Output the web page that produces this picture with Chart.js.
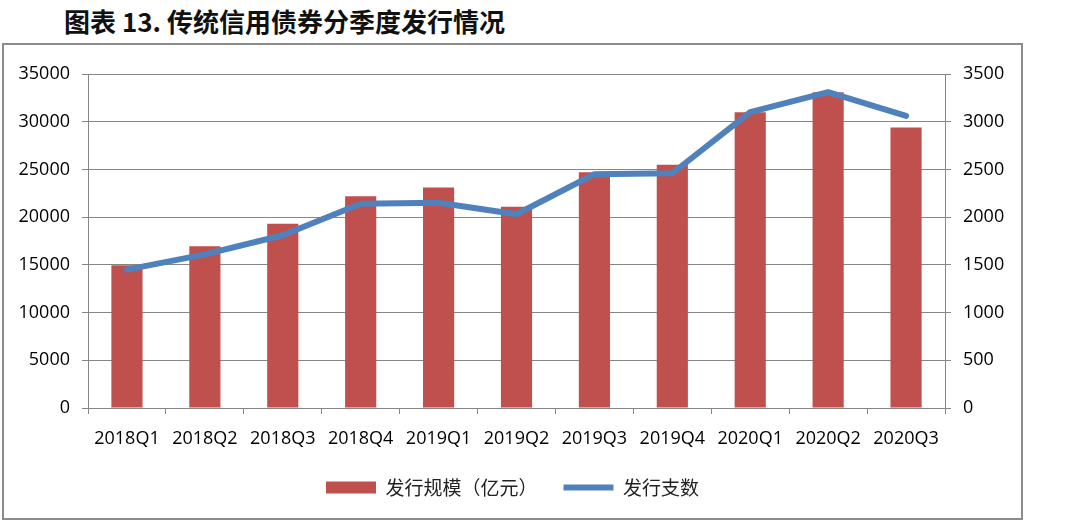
<!DOCTYPE html>
<html>
<head>
<meta charset="utf-8">
<script src="https://cdn.jsdelivr.net/npm/chart.js@4.4.1/dist/chart.umd.min.js"></script>
<style>
  html, body { margin: 0; padding: 0; background: #fff; }
  body { width: 1080px; height: 529px; position: relative; overflow: hidden; }
  #title {
    position: absolute; left: 64px; top: 2px;
    font: bold 26px "Noto Sans CJK SC", sans-serif; color: #111;
    white-space: nowrap;
  }
  #box {
    position: absolute; left: 2px; top: 43px; width: 1017px; height: 473px;
    border: 2px solid #8c8c8c;
  }
  canvas { display: block; }
</style>
</head>
<body>
<div id="title">图表 13. 传统信用债券分季度发行情况</div>
<div id="box"><canvas id="c" width="1017" height="473"></canvas></div>
<script>
// quarterly issuance of traditional credit bonds
const quarters = ["2018Q1", "2018Q2", "2018Q3", "2018Q4", "2019Q1", "2019Q2",
  "2019Q3", "2019Q4", "2020Q1", "2020Q2", "2020Q3"];
const issueAmount = [14950, 16950, 19300, 22200, 23100, 21100, 24700, 25500, 31000, 33100, 29400];
const issueCount = [1450, 1610, 1810, 2140, 2150, 2030, 2450, 2460, 3100, 3310, 3060];

const gridGray = "#868686";
const tickFont = { family: "'Open Sans', sans-serif", size: 18 };

new Chart(document.getElementById("c"), {
  type: "bar",
  data: {
    labels: quarters,
    datasets: [
      {
        label: "发行规模（亿元）",
        data: issueAmount,
        backgroundColor: "#C0504D",
        borderWidth: 0,
        barPercentage: 0.4,
        categoryPercentage: 1,
        yAxisID: "y",
        order: 1
      },
      {
        type: "line",
        label: "发行支数",
        data: issueCount,
        borderColor: "#4F81BD",
        backgroundColor: "#4F81BD",
        borderWidth: 6,
        borderJoinStyle: "round",
        borderCapStyle: "round",
        tension: 0,
        pointRadius: 0,
        yAxisID: "y2",
        order: 0
      }
    ]
  },
  options: {
    responsive: false,
    animation: false,
    layout: { padding: { top: 29, left: 0, right: 0, bottom: 11 } },
    plugins: {
      tooltip: { enabled: false },
      legend: {
        position: "bottom",
        labels: {
          usePointStyle: true,
          pointStyleWidth: 50,
          boxHeight: 12,
          padding: 26,
          color: "#222",
          font: { family: "'Noto Sans CJK SC', sans-serif", size: 19 },
          sort: (a, b) => a.datasetIndex - b.datasetIndex,
          generateLabels: (chart) => {
            const items = Chart.defaults.plugins.legend.labels.generateLabels(chart);
            items.forEach((it) => {
              it.pointStyle = it.datasetIndex === 0 ? "rect" : "line";
            });
            return items;
          }
        }
      }
    },
    scales: {
      x: {
        grid: { drawOnChartArea: false, drawTicks: true, tickLength: 6, color: gridGray },
        border: { color: gridGray, width: 1 },
        ticks: { color: "#000", font: tickFont, padding: 14, maxRotation: 0, autoSkip: false },
        afterFit: (s) => { s.height = 44; }
      },
      y: {
        position: "left",
        min: 0,
        max: 35000,
        ticks: { stepSize: 5000, color: "#000", font: tickFont, padding: 12, callback: (v) => String(v) },
        grid: { color: gridGray, tickLength: 6 },
        border: { color: gridGray, width: 1 },
        afterFit: (s) => { s.width = 84; }
      },
      y2: {
        position: "right",
        min: 0,
        max: 3500,
        ticks: { stepSize: 500, color: "#000", font: tickFont, padding: 12, callback: (v) => String(v) },
        grid: { drawOnChartArea: false, color: gridGray, tickLength: 6 },
        border: { color: gridGray, width: 1 },
        afterFit: (s) => { s.width = 76; }
      }
    }
  }
});
</script>
</body>
</html>
